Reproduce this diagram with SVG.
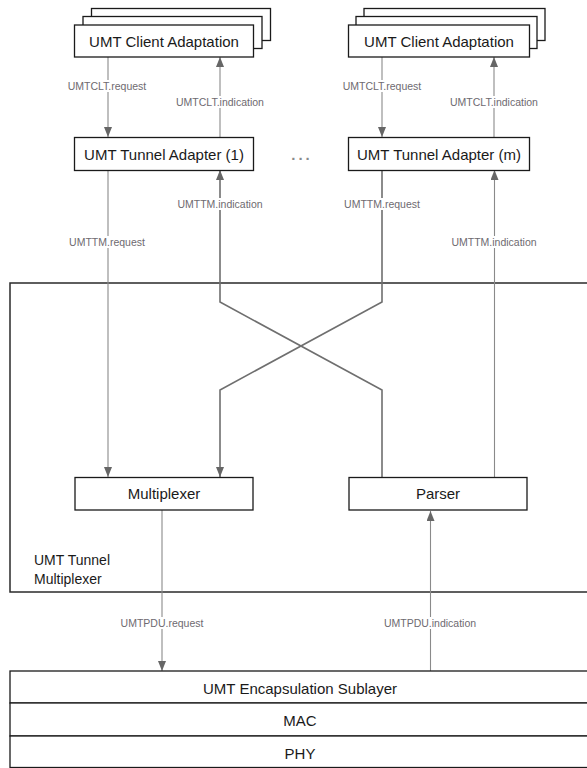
<svg xmlns="http://www.w3.org/2000/svg" width="587" height="768" viewBox="0 0 587 768">
  <style>
    .box { fill: #ffffff; stroke: #1a1a1a; stroke-width: 1.3; }
    .frame { fill: none; stroke: #2a2a2a; stroke-width: 1.5; }
    .btxt { font-family: "Liberation Sans", Arial, sans-serif; font-size: 15px; fill: #1a1a1a; text-anchor: middle; dominant-baseline: central; }
    .lbl { font-family: "Liberation Sans", Arial, sans-serif; font-size: 10.5px; fill: #6e6a70; text-anchor: middle; dominant-baseline: central; }
    .lblbg { fill: #ffffff; }
    .ln { fill: none; stroke: #8a8a8a; stroke-width: 1.1; }
    .ln2 { fill: none; stroke: #6f6f6f; stroke-width: 1.6; }
  </style>
  <defs>
    <marker id="ah" viewBox="0 0 10 8" refX="10" refY="4" markerWidth="10" markerHeight="8" markerUnits="userSpaceOnUse" orient="auto">
      <path d="M0,0 L10,4 L0,8 z" fill="#666666"/>
    </marker>
  </defs>

  <!-- Tunnel multiplexer enclosure -->
  <g id="tunnel-multiplexer">
    <rect class="frame" x="10" y="283" width="600" height="309"/>
    <text class="btxt" style="font-size:14px;text-anchor:start" x="34" y="560">UMT Tunnel</text>
    <text class="btxt" style="font-size:14px;text-anchor:start" x="34" y="579">Multiplexer</text>
  </g>

  <!-- Connectors -->
  <g id="connectors">
    <!-- client adaptation <-> tunnel adapter (1) -->
    <line class="ln" x1="108" y1="57" x2="108" y2="137" marker-end="url(#ah)"/>
    <line class="ln" x1="220" y1="137" x2="220" y2="57" marker-end="url(#ah)"/>
    <!-- client adaptation <-> tunnel adapter (m) -->
    <line class="ln" x1="382" y1="57" x2="382" y2="137" marker-end="url(#ah)"/>
    <line class="ln" x1="494" y1="137" x2="494" y2="57" marker-end="url(#ah)"/>

    <!-- tunnel adapters <-> multiplexer / parser -->
    <line class="ln" x1="108" y1="170" x2="108" y2="477" marker-end="url(#ah)"/>
    <polyline class="ln2" points="382,477 382,390 220,302 220,170" marker-end="url(#ah)"/>
    <polyline class="ln2" points="382,170 382,302 220,390 220,477" marker-end="url(#ah)"/>
    <line class="ln" x1="494.5" y1="477" x2="494.5" y2="170" marker-end="url(#ah)"/>

    <!-- multiplexer / parser <-> encapsulation sublayer -->
    <line class="ln" x1="162" y1="510" x2="162" y2="671" marker-end="url(#ah)"/>
    <line class="ln" x1="430.5" y1="671" x2="430.5" y2="511" marker-end="url(#ah)"/>

    <!-- primitive labels -->
    <rect class="lblbg" x="67" y="80" width="81" height="12"/>
    <text class="lbl" x="107" y="86">UMTCLT.request</text>
    <rect class="lblbg" x="175" y="96" width="90" height="12"/>
    <text class="lbl" x="220" y="102">UMTCLT.indication</text>
    <rect class="lblbg" x="341" y="80" width="81" height="12"/>
    <text class="lbl" x="382" y="86">UMTCLT.request</text>
    <rect class="lblbg" x="449" y="96" width="90" height="12"/>
    <text class="lbl" x="494" y="102">UMTCLT.indication</text>

    <rect class="lblbg" x="69" y="236" width="77" height="12"/>
    <text class="lbl" x="107" y="242">UMTTM.request</text>
    <rect class="lblbg" x="177" y="198" width="86" height="12"/>
    <text class="lbl" x="220" y="204">UMTTM.indication</text>
    <rect class="lblbg" x="344" y="198" width="77" height="12"/>
    <text class="lbl" x="382" y="204">UMTTM.request</text>
    <rect class="lblbg" x="451" y="236" width="86" height="12"/>
    <text class="lbl" x="494" y="242">UMTTM.indication</text>

    <rect class="lblbg" x="120" y="617" width="84" height="12"/>
    <text class="lbl" x="162" y="623">UMTPDU.request</text>
    <rect class="lblbg" x="384" y="617" width="93" height="12"/>
    <text class="lbl" x="430" y="623">UMTPDU.indication</text>
  </g>

  <!-- Client adaptation stacks -->
  <g id="client-adaptation-1">
    <rect class="box" x="91.5" y="8.5" width="179" height="32"/>
    <rect class="box" x="83" y="16.5" width="179" height="32"/>
    <rect class="box" x="74.5" y="25" width="179" height="32"/>
    <text class="btxt" x="164" y="41">UMT Client Adaptation</text>
  </g>
  <g id="client-adaptation-m">
    <rect class="box" x="364" y="8.5" width="181" height="32"/>
    <rect class="box" x="356" y="16.5" width="181" height="32"/>
    <rect class="box" x="348.5" y="25" width="181" height="32"/>
    <text class="btxt" x="439" y="41">UMT Client Adaptation</text>
  </g>

  <!-- Tunnel adapters -->
  <g id="tunnel-adapter-1">
    <rect class="box" x="74.5" y="137.5" width="179" height="33"/>
    <text class="btxt" x="164" y="154">UMT Tunnel Adapter (1)</text>
  </g>
  <g id="ellipsis">
    <text x="302" y="154" style="font-family:'Liberation Sans',Arial,sans-serif;font-size:15px;font-weight:bold;fill:#8a8a8a;text-anchor:middle;letter-spacing:3px;dominant-baseline:central">...</text>
  </g>
  <g id="tunnel-adapter-m">
    <rect class="box" x="348.5" y="137.5" width="181" height="33"/>
    <text class="btxt" x="439" y="154">UMT Tunnel Adapter (m)</text>
  </g>

  <!-- Multiplexer and parser -->
  <g id="multiplexer">
    <rect class="box" x="75" y="477.5" width="178" height="32.5"/>
    <text class="btxt" x="164" y="493.5">Multiplexer</text>
  </g>
  <g id="parser">
    <rect class="box" x="349" y="477.5" width="178" height="32.5"/>
    <text class="btxt" x="438" y="493.5">Parser</text>
  </g>

  <!-- Lower layers -->
  <g id="encapsulation-sublayer">
    <rect class="box" x="10" y="671" width="600" height="32"/>
    <text class="btxt" x="300" y="688">UMT Encapsulation Sublayer</text>
  </g>
  <g id="mac">
    <rect class="box" x="10" y="703" width="600" height="33"/>
    <text class="btxt" x="300" y="720">MAC</text>
  </g>
  <g id="phy">
    <rect class="box" x="10" y="736" width="600" height="31.5"/>
    <text class="btxt" x="300" y="753">PHY</text>
  </g>
</svg>
